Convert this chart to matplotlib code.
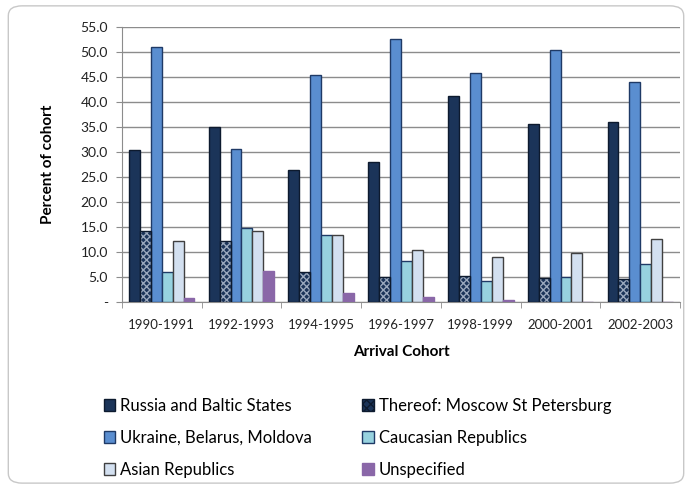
import matplotlib
matplotlib.use("Agg")
import matplotlib.pyplot as plt
import numpy as np
from matplotlib.patches import Patch, FancyBboxPatch

plt.rcParams['font.family'] = ['Lato', 'DejaVu Sans']

cohorts = ["1990-1991", "1992-1993", "1994-1995", "1996-1997", "1998-1999", "2000-2001", "2002-2003"]
series_names = ["Russia and Baltic States", "Thereof: Moscow St Petersburg",
                "Ukraine, Belarus, Moldova", "Caucasian Republics",
                "Asian Republics", "Unspecified"]
russia = [30.3, 34.9, 26.3, 28.0, 41.2, 35.5, 35.9]
moscow = [14.3, 12.3, 6.1, 5.1, 5.3, 4.9, 4.7]
ukraine = [50.9, 30.5, 45.4, 52.6, 45.7, 50.4, 44.0]
caucasian = [6.1, 14.8, 13.4, 8.2, 4.2, 5.0, 7.7]
asian = [12.2, 14.2, 13.4, 10.5, 9.1, 9.8, 12.7]
unspecified = [0.9, 6.3, 1.9, 1.1, 0.5, 0.0, 0.0]
values = [russia, moscow, ukraine, caucasian, asian, unspecified]
yticks = [0, 5, 10, 15, 20, 25, 30, 35, 40, 45, 50, 55]
ytick_labels = ["-"] + [f"{v:.1f}" for v in yticks[1:]]

faces = ["#1b3459", "#1b3459", "#5a8ed0", "#97d2df", "#d3e0f0", "#8a67a8"]
edges = ["#0d1a2e", "#0d1a2e", "#1f3a66", "#1f3a66", "#404040", "#8a67a8"]

fig = plt.figure(figsize=(6.92, 4.88), dpi=100)
fig.patches.append(FancyBboxPatch((0.012, 0.01), 0.976, 0.978, boxstyle="round,pad=0,rounding_size=0.02",
                                  transform=fig.transFigure, facecolor="white",
                                  edgecolor="#c8c8c8", linewidth=1.0, zorder=-10))
ax = fig.add_axes([0.176, 0.381, 0.807, 0.564])

x = np.arange(len(cohorts))
n = len(values)
bw = 0.137
offsets = (np.arange(n) - (n - 1) / 2) * bw
for i, (vals, fc, ec) in enumerate(zip(values, faces, edges)):
    if i == 1:
        ax.bar(x + offsets[i], vals, bw, color=fc, edgecolor="#9aa8bd", hatch="xxxxx",
               linewidth=0, zorder=3)
        ax.bar(x + offsets[i], vals, bw, fill=False, edgecolor=ec, linewidth=1.0, zorder=4)
    else:
        ax.bar(x + offsets[i], vals, bw, color=fc, edgecolor=ec, linewidth=1.0, zorder=3)

ax.set_xlim(-0.5, len(cohorts) - 0.5)
ax.set_ylim(0, 55)
ax.set_yticks(yticks)
ax.set_yticklabels(ytick_labels)
ax.yaxis.grid(True, color="#8c8c8c", linewidth=1.0, zorder=0)
ax.set_axisbelow(True)
ax.set_xticks(x)
ax.set_xticklabels(cohorts)
ax.set_xticks(np.arange(len(cohorts) + 1) - 0.5, minor=True)
ax.tick_params(axis="x", which="major", length=0, pad=12, labelsize=9.5, colors="#222222")
ax.tick_params(axis="x", which="minor", length=4, color="#8c8c8c")
ax.tick_params(axis="y", length=4, color="#8c8c8c", labelsize=10, colors="#222222", pad=6)
for s in ["top", "right"]:
    ax.spines[s].set_visible(False)
for s in ["left", "bottom"]:
    ax.spines[s].set_color("#8c8c8c")

ax.set_xlabel("Arrival Cohort", fontsize=11, fontweight="bold", labelpad=10)
ax.set_ylabel("Percent of cohort", fontsize=11, fontweight="bold", labelpad=18)

handles = []
for i in range(n):
    if i == 1:
        handles.append(Patch(facecolor=faces[i], edgecolor=edges[i], hatch="xxxx"))
    else:
        handles.append(Patch(facecolor=faces[i], edgecolor=edges[i]))
order = [0, 2, 4, 1, 3, 5]
fig.legend([handles[k] for k in order], [series_names[k] for k in order], ncol=2,
           loc="upper left", bbox_to_anchor=(0.128, 0.215), frameon=False,
           fontsize=12, handlelength=0.7, handleheight=0.7, handletextpad=0.3,
           columnspacing=3.0, labelspacing=0.95)

fig.savefig("out.png", dpi=100)
